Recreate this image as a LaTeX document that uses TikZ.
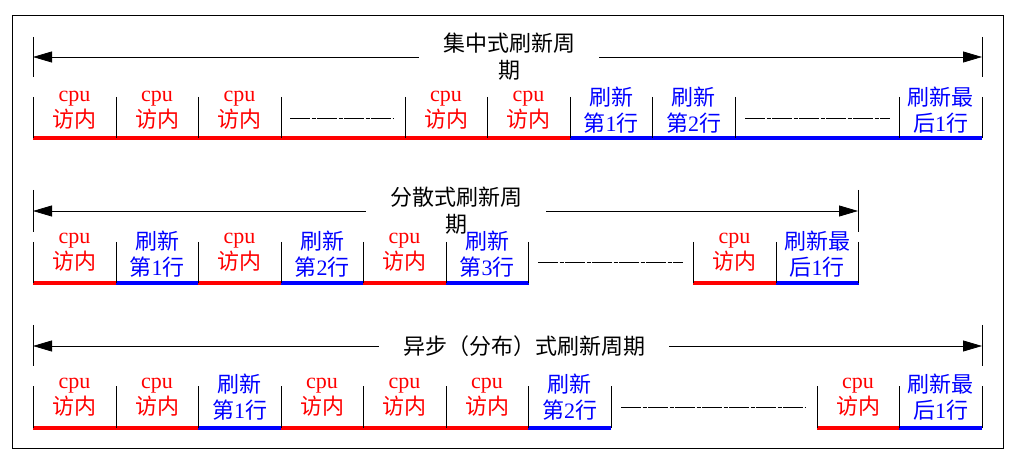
\documentclass[tikz,border=0pt]{standalone}
\usepackage{fontspec}
\setmainfont{Liberation Serif}
\newfontfamily\cjk{Noto Sans CJK SC}
\usetikzlibrary{arrows.meta}
\newcommand{\zh}[1]{{\cjk #1}}
\newcommand{\cpucell}{cpu\\\zh{访内}}
\newcommand{\rowcell}[1]{\zh{刷新}\\\zh{第}#1\zh{行}}
\newcommand{\lastcell}{\zh{刷新最}\\\zh{后}1\zh{行}}

\begin{document}
\begin{tikzpicture}[x=1pt,y=-1pt,
  cell/.style={font=\fontsize{22}{26}\selectfont,align=center,inner sep=0pt},
  cpu/.style={cell,text=red},
  refr/.style={cell,text=blue},
  title/.style={font=\fontsize{22}{27}\selectfont,align=center,inner xsep=24pt},
  span/.style={-{Triangle[length=19pt,width=11pt]},line width=0.8pt},
  tick/.style={line width=0.8pt},
  base/.style={line width=3.5pt},
  gap/.style={line width=0.8pt,dash pattern=on 20pt off 1.5pt on 4pt off 1.5pt}]
\useasboundingbox (0,0) rectangle (1021,465);
\draw[line width=0.8pt] (12.5,15) rectangle (1003,448);

% Row 1: burst refresh
\coordinate (s1l) at (33,57);
\coordinate (s1r) at (982,57);
\draw[tick] (33,37) -- (33,77);
\draw[tick] (982,37) -- (982,77);
\node[title] (t1) at (509,57) {\zh{集中式刷新周}\\\zh{期}};
\draw[span] (t1) -- (s1l);
\draw[span] (t1) -- (s1r);
\draw[base,red] (33,138) -- (570,138);
\draw[base,blue] (570,138) -- (982,138);
\foreach \x in {33,116,198,281,405,487,570,652,735,899,982}
  \draw[tick] (\x,97) -- (\x,138);
\foreach \x [count=\i] in {74.5,157,239.5,446,528.5}
  \node[cpu] (a\i) at (\x,110) {\cpucell};
\node[refr] (ar1) at (611,110) {\rowcell{1}};
\node[refr] (ar2) at (693.5,110) {\rowcell{2}};
\node[refr] (arn) at (940.5,110) {\lastcell};
\draw[gap] (290,118) -- (393,118);
\draw[gap] (745,118) -- (890,118);

% Row 2: distributed refresh
\coordinate (s2l) at (33,211);
\coordinate (s2r) at (858,211);
\draw[tick] (33,190) -- (33,232);
\draw[tick] (858,190) -- (858,232);
\node[title] (t2) at (456,211) {\zh{分散式刷新周}\\\zh{期}};
\draw[span] (t2) -- (s2l);
\draw[span] (t2) -- (s2r);
\foreach \x/\c in {33/red,116/blue,198/red,281/blue,363/red,446/blue,693/red,776/blue}
  \draw[base,\c] (\x,283) -- (\x+82.5,283);
\foreach \x in {33,116,198,281,363,446,528,693,776,858}
  \draw[tick] (\x,242) -- (\x,283);
\foreach \x [count=\i] in {74.5,239.5,404.5,734.5}
  \node[cpu] (b\i) at (\x,252) {\cpucell};
\foreach \x [count=\i] in {157,322,487}
  \node[refr] (br\i) at (\x,254) {\rowcell{\i}};
\node[refr] (brn) at (817,254) {\lastcell};
\draw[gap] (538,262) -- (683,262);

% Row 3: asynchronous refresh
\coordinate (s3l) at (33,346);
\coordinate (s3r) at (982,346);
\draw[tick] (33,325) -- (33,366);
\draw[tick] (982,325) -- (982,366);
\node[title] (t3) at (524,346) {\zh{异步（分布）式刷新周期}};
\draw[span] (t3) -- (s3l);
\draw[span] (t3) -- (s3r);
\draw[base,red] (33,428) -- (198,428);
\draw[base,blue] (198,428) -- (281,428);
\draw[base,red] (281,428) -- (528,428);
\draw[base,blue] (528,428) -- (611,428);
\draw[base,red] (817,428) -- (899,428);
\draw[base,blue] (899,428) -- (982,428);
\foreach \x in {33,116,198,281,363,446,528,611,817,899,982}
  \draw[tick] (\x,386) -- (\x,428);
\foreach \x [count=\i] in {74.5,157,322,404.5,487,858}
  \node[cpu] (c\i) at (\x,397) {\cpucell};
\node[refr] (cr1) at (239.5,397) {\rowcell{1}};
\node[refr] (cr2) at (569.5,397) {\rowcell{2}};
\node[refr] (crn) at (940.5,397) {\lastcell};
\draw[gap] (621,407) -- (806,407);
\end{tikzpicture}
\end{document}
